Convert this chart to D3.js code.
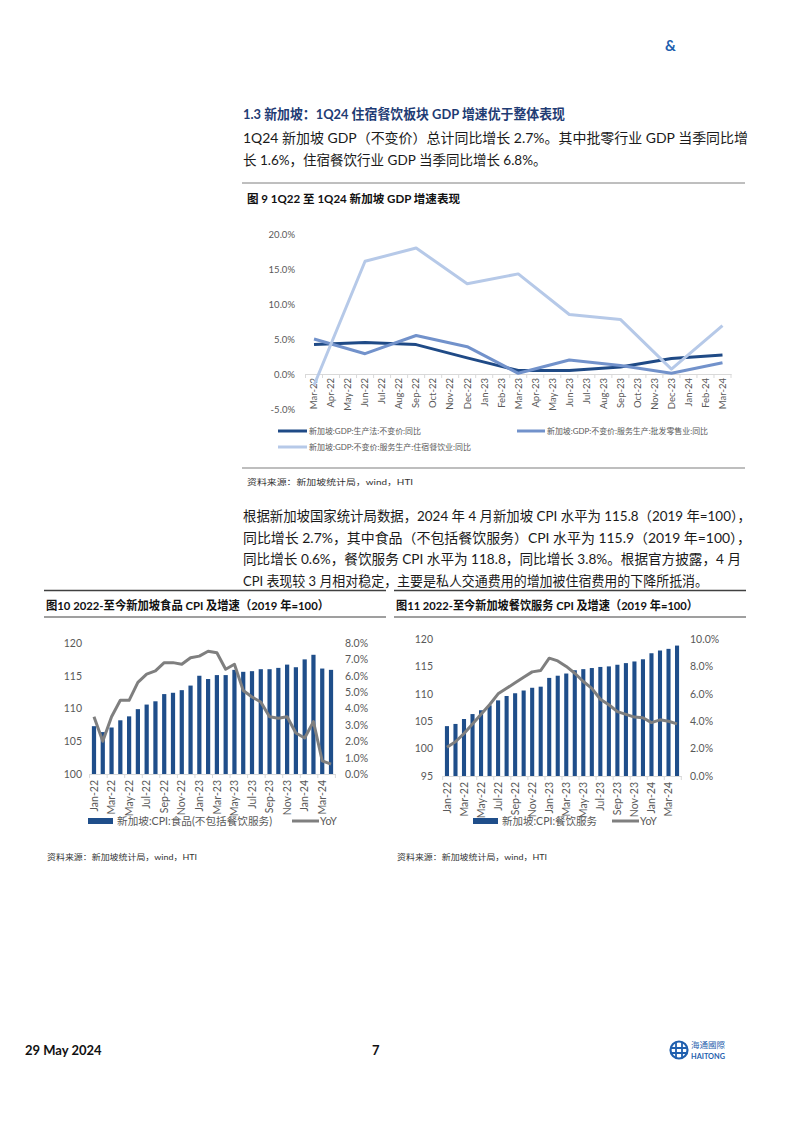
<!DOCTYPE html>
<html>
<head>
<meta charset="utf-8">
<script src="https://cdn.jsdelivr.net/npm/d3@7"></script>
<style>
  body { margin: 0; background: #fff; }
  svg { display: block; }
  text { font-family: Lato, "Noto Sans CJK SC", sans-serif; }
</style>
</head>
<body>
<svg id="page" width="802" height="1132"></svg>
<script>
// ---- figure 9: quarterly GDP yoy (%) ----
var gdpMonths = ["Mar-22","Apr-22","May-22","Jun-22","Jul-22","Aug-22","Sep-22","Oct-22","Nov-22","Dec-22",
  "Jan-23","Feb-23","Mar-23","Apr-23","May-23","Jun-23","Jul-23","Aug-23","Sep-23","Oct-23","Nov-23","Dec-23",
  "Jan-24","Feb-24","Mar-24"];
var gdpQuarters = ["Mar-22","Jun-22","Sep-22","Dec-22","Mar-23","Jun-23","Sep-23","Dec-23","Mar-24"];
var gdpTotal = [4.2, 4.5, 4.2, 2.3, 0.5, 0.5, 1.0, 2.2, 2.7];
var gdpWholesale = [5.0, 2.9, 5.5, 3.9, 0.1, 2.0, 1.2, 0.1, 1.6];
var gdpAccomm = [-1.6, 16.1, 18.0, 12.9, 14.3, 8.5, 7.8, 0.7, 6.9];
var gdpTicks = [-5, 0, 5, 10, 15, 20];
var gdpNames = ["新加坡:GDP:生产法:不变价:同比", "新加坡:GDP:不变价:服务生产:批发零售业:同比", "新加坡:GDP:不变价:服务生产:住宿餐饮业:同比"];

// ---- figures 10 / 11: monthly CPI (2019=100) and yoy (%) ----
var cpiMonths = ["Jan-22","Feb-22","Mar-22","Apr-22","May-22","Jun-22","Jul-22","Aug-22","Sep-22","Oct-22","Nov-22","Dec-22",
  "Jan-23","Feb-23","Mar-23","Apr-23","May-23","Jun-23","Jul-23","Aug-23","Sep-23","Oct-23","Nov-23","Dec-23",
  "Jan-24","Feb-24","Mar-24","Apr-24"];
var foodCpi = [107.3, 106.4, 107.1, 108.2, 108.8, 109.9, 110.6, 111.1, 112.2, 112.4, 112.8, 113.5,
  115.0, 114.5, 115.1, 115.1, 115.9, 115.6, 115.7, 116.0, 116.0, 116.2, 116.7, 116.3,
  117.5, 118.2, 116.1, 115.9];
var foodYoy = [3.5, 2.0, 3.5, 4.5, 4.5, 5.6, 6.1, 6.3, 6.8, 6.8, 6.7, 7.1,
  7.2, 7.5, 7.4, 6.4, 6.7, 5.1, 4.7, 4.4, 3.5, 3.4, 3.5, 2.5,
  2.2, 3.2, 0.8, 0.6];
var restCpi = [104.1, 104.5, 105.4, 106.3, 107.0, 107.9, 108.8, 109.6, 110.1, 110.6, 111.1, 111.3,
  112.9, 113.3, 113.7, 114.3, 114.5, 114.7, 114.9, 115.0, 115.3, 115.6, 115.9, 116.3,
  117.4, 117.9, 118.2, 118.8];
var restYoy = [2.1, 2.5, 3.1, 3.8, 4.5, 5.2, 6.0, 6.4, 6.8, 7.2, 7.6, 7.7,
  8.6, 8.4, 8.0, 7.5, 6.9, 6.4, 5.6, 5.2, 4.7, 4.5, 4.3, 4.25,
  3.9, 4.1, 4.0, 3.8];
var foodTicksL = [100, 105, 110, 115, 120];
var foodTicksR = [0, 1, 2, 3, 4, 5, 6, 7, 8];
var restTicksL = [95, 100, 105, 110, 115, 120];
var restTicksR = [0, 2, 4, 6, 8, 10];

var svg = d3.select("#page");
svg.append("rect").attr("width", 802).attr("height", 1132).attr("fill", "#fff");

var darkBlue = "#1f4a86", midBlue = "#7292cb", lightBlue = "#b6c9e8", barBlue = "#1f4e8a", grey = "#7f7f7f";
var tickGrey = "#595959";

function txt(x, y, s, o) {
  o = o || {};
  var t = svg.append("text").attr("x", x).attr("y", y).text(s)
    .attr("font-size", o.size || 13.5)
    .attr("fill", o.fill || "#1a1a1a")
    .attr("font-weight", o.bold ? "bold" : null)
    .attr("text-anchor", o.anchor || "start")
    .attr("dominant-baseline", "central");
  if (o.len) t.attr("textLength", o.len).attr("lengthAdjust", "spacingAndGlyphs");
  return t;
}
function rule(x1, x2, y, w, c) {
  svg.append("line").attr("x1", x1).attr("x2", x2).attr("y1", y).attr("y2", y)
    .attr("stroke", c || "#404040").attr("stroke-width", w || 1);
}

// header + text
txt(665, 45, "&", {size: 15, bold: true, fill: "#1f5fae"});
txt(243, 114, "1.3 新加坡：1Q24 住宿餐饮板块 GDP 增速优于整体表现", {size: 13.5, bold: true, fill: "#1f3c74", len: 322});
txt(243, 138, "1Q24 新加坡 GDP（不变价）总计同比增长 2.7%。其中批零行业 GDP 当季同比增", {len: 505});
txt(243, 160, "长 1.6%，住宿餐饮行业 GDP 当季同比增长 6.8%。");

// ---------- figure 9 ----------
rule(242, 745, 183, 1, "#7f7f7f");
txt(247, 198, "图 9 1Q22 至 1Q24 新加坡 GDP 增速表现", {size: 11.5, bold: true, fill: "#111", len: 213});
rule(242, 745, 468, 1.2, "#7f7f7f");
txt(247, 482, "资料来源：新加坡统计局，wind，HTI", {size: 8, fill: "#333", len: 166});

var gx = d3.scaleBand().domain(gdpMonths).range([305.5, 731]);
var gy = d3.scaleLinear().domain([-5, 20]).range([409, 234]);
var gc = function(m) { return gx(m) + gx.bandwidth() / 2; };

var gYAxis = svg.append("g").attr("transform", "translate(300,0)")
  .call(d3.axisLeft(gy).tickValues(gdpTicks).tickSize(0).tickPadding(5).tickFormat(function(d) { return d.toFixed(1) + "%"; }));
gYAxis.select(".domain").remove();
gYAxis.selectAll("text").attr("font-size", 9.5).attr("fill", tickGrey).attr("font-family", "Lato, sans-serif");

var gXAxis = svg.append("g").attr("transform", "translate(0," + gy(0) + ")")
  .call(d3.axisBottom(gx).tickSize(0));
gXAxis.select(".domain").attr("stroke", "#d9d9d9");
gXAxis.selectAll("text").attr("transform", "rotate(-90)").attr("text-anchor", "end")
  .attr("x", -4).attr("y", 0).attr("dy", "0.35em")
  .attr("font-size", 9.5).attr("fill", tickGrey).attr("font-family", "Lato, sans-serif");
svg.append("g").selectAll("line").data(gdpMonths.concat(["end"])).join("line")
  .attr("x1", function(d, i) { return gx.range()[0] + i * gx.step(); })
  .attr("x2", function(d, i) { return gx.range()[0] + i * gx.step(); })
  .attr("y1", gy(0)).attr("y2", gy(0) + 4).attr("stroke", "#d9d9d9");

var gSeries = [gdpTotal, gdpWholesale, gdpAccomm];
var gColors = [darkBlue, midBlue, lightBlue];
var gLine = d3.line().x(function(d) { return gc(d[0]); }).y(function(d) { return gy(d[1]); });
gSeries.forEach(function(vals, k) {
  svg.append("path").datum(d3.zip(gdpQuarters, vals)).attr("d", gLine)
    .attr("fill", "none").attr("stroke", gColors[k]).attr("stroke-width", 3).attr("stroke-linejoin", "round");
});

// legend fig 9
var gLeg = [{x: 278, y: 431, w: 29, len: 112}, {x: 517, y: 431, w: 28, len: 161}, {x: 278, y: 447, w: 29, len: 162}];
gLeg.forEach(function(p, k) {
  svg.append("line").attr("x1", p.x).attr("x2", p.x + p.w).attr("y1", p.y).attr("y2", p.y)
    .attr("stroke", gColors[k]).attr("stroke-width", 3);
  txt(p.x + p.w + 2, p.y, gdpNames[k], {size: 7.5, fill: tickGrey, len: p.len});
});

// paragraph 2
txt(243, 516, "根据新加坡国家统计局数据，2024 年 4 月新加坡 CPI 水平为 115.8（2019 年=100），", {len: 508});
txt(243, 537.5, "同比增长 2.7%，其中食品（不包括餐饮服务）CPI 水平为 115.9（2019 年=100），", {len: 508});
txt(243, 559, "同比增长 0.6%，餐饮服务 CPI 水平为 118.8，同比增长 3.8%。根据官方披露，4 月", {len: 498});
txt(243, 580.5, "CPI 表现较 3 月相对稳定，主要是私人交通费用的增加被住宿费用的下降所抵消。", {len: 465});

// ---------- bar + line combo ----------
function combo(cfg) {
  rule(cfg.boxX[0], cfg.boxX[1], 590.5, 1.5, "#404040");
  txt(cfg.boxX[0] + 2, 605, cfg.title, {size: 12, bold: true, fill: "#111", len: cfg.titleLen});
  rule(cfg.boxX[0], cfg.boxX[1], 617, 1.2, "#404040");
  txt(cfg.boxX[0] + 3, 857, "资料来源：新加坡统计局，wind，HTI", {size: 7.5, fill: "#333", len: 150});

  var x = d3.scaleBand().domain(cpiMonths).range(cfg.xr).paddingInner(0.52).paddingOuter(0.26);
  var base = cfg.base;
  var yl = d3.scaleLinear().domain(cfg.domL).range([base, cfg.top]);
  var yr = d3.scaleLinear().domain(cfg.domR).range([base, cfg.top]);
  var cx = function(m) { return x(m) + x.bandwidth() / 2; };

  svg.append("g").selectAll("rect").data(d3.zip(cpiMonths, cfg.bars)).join("rect")
    .attr("x", function(d) { return x(d[0]); })
    .attr("width", x.bandwidth())
    .attr("y", function(d) { return yl(d[1]); })
    .attr("height", function(d) { return base - yl(d[1]); })
    .attr("fill", barBlue);

  var line = d3.line().x(function(d) { return cx(d[0]); }).y(function(d) { return yr(d[1]); });
  svg.append("path").datum(d3.zip(cpiMonths, cfg.yoy)).attr("d", line)
    .attr("fill", "none").attr("stroke", grey).attr("stroke-width", 3).attr("stroke-linejoin", "round");

  var la = svg.append("g").attr("transform", "translate(" + (cfg.labL + 5) + ",0)")
    .call(d3.axisLeft(yl).tickValues(cfg.ticksL).tickSize(0).tickPadding(5));
  la.select(".domain").remove();
  var ra = svg.append("g").attr("transform", "translate(" + (cfg.labR - 5) + ",0)")
    .call(d3.axisRight(yr).tickValues(cfg.ticksR).tickSize(0).tickPadding(5).tickFormat(function(d) { return d.toFixed(1) + "%"; }));
  ra.select(".domain").remove();
  [la, ra].forEach(function(a) {
    a.selectAll("text").attr("font-size", 10.5).attr("fill", tickGrey).attr("font-family", "Lato, sans-serif");
  });

  var xa = svg.append("g").attr("transform", "translate(0," + base + ")")
    .call(d3.axisBottom(x).tickSize(0).tickValues(cpiMonths.filter(function(d, i) { return i % 2 === 0; })));
  xa.select(".domain").attr("stroke", "#d9d9d9");
  xa.selectAll("text").attr("transform", "rotate(-90)").attr("text-anchor", "end")
    .attr("x", -6).attr("y", 0).attr("dy", "0.35em")
    .attr("font-size", 10.5).attr("fill", tickGrey).attr("font-family", "Lato, sans-serif");
  svg.append("g").selectAll("line").data(d3.range(0, cpiMonths.length + 1, 2)).join("line")
    .attr("x1", function(i) { return cfg.xr[0] + i * x.step(); })
    .attr("x2", function(i) { return cfg.xr[0] + i * x.step(); })
    .attr("y1", base).attr("y2", base + 4).attr("stroke", "#d9d9d9");

  // legend
  var lg = cfg.legend;
  svg.append("rect").attr("x", lg.bx).attr("y", lg.y - 3).attr("width", 25).attr("height", 6).attr("fill", barBlue);
  txt(lg.bx + 29, lg.y, cfg.barName, {size: 10.5, fill: tickGrey, len: lg.len});
  svg.append("line").attr("x1", lg.lx).attr("x2", lg.lx + 27).attr("y1", lg.y).attr("y2", lg.y)
    .attr("stroke", grey).attr("stroke-width", 3);
  txt(lg.lx + 28, lg.y, "YoY", {size: 10.5, fill: tickGrey});
}

combo({
  boxX: [44, 386], title: "图10 2022-至今新加坡食品 CPI 及增速（2019 年=100）", titleLen: 283,
  xr: [89.6, 335.4], base: 774, top: 643, domL: [100, 120], domR: [0, 8],
  ticksL: foodTicksL, ticksR: foodTicksR, labL: 82, labR: 345,
  bars: foodCpi, yoy: foodYoy, barName: "新加坡:CPI:食品(不包括餐饮服务)",
  legend: {bx: 88, lx: 292, y: 821, len: 155}
});
combo({
  boxX: [394, 746], title: "图11 2022-至今新加坡餐饮服务 CPI 及增速（2019 年=100）", titleLen: 302,
  xr: [442.7, 681.3], base: 776, top: 639, domL: [95, 120], domR: [0, 10],
  ticksL: restTicksL, ticksR: restTicksR, labL: 433, labR: 690,
  bars: restCpi, yoy: restYoy, barName: "新加坡:CPI:餐饮服务",
  legend: {bx: 473, lx: 612, y: 821, len: 95}
});

// footer
txt(25, 1050, "29 May 2024", {size: 13, bold: true, fill: "#111"});
txt(372, 1050, "7", {size: 13, bold: true, fill: "#111"});
var logo = svg.append("g").attr("transform", "translate(679,1050)");
logo.append("circle").attr("r", 8.5).attr("fill", "none").attr("stroke", "#1f5fae").attr("stroke-width", 2.2);
logo.append("path").attr("d", "M-8,-2H8M-8,3H8M-3,-8V8M3,-8V8").attr("stroke", "#1f5fae").attr("stroke-width", 1.8);
txt(691, 1045, "海通國際", {size: 8, fill: "#1f5fae", len: 34});
txt(691, 1056, "HAITONG", {size: 7.5, bold: true, fill: "#1f5fae", len: 34});
</script>
</body>
</html>
